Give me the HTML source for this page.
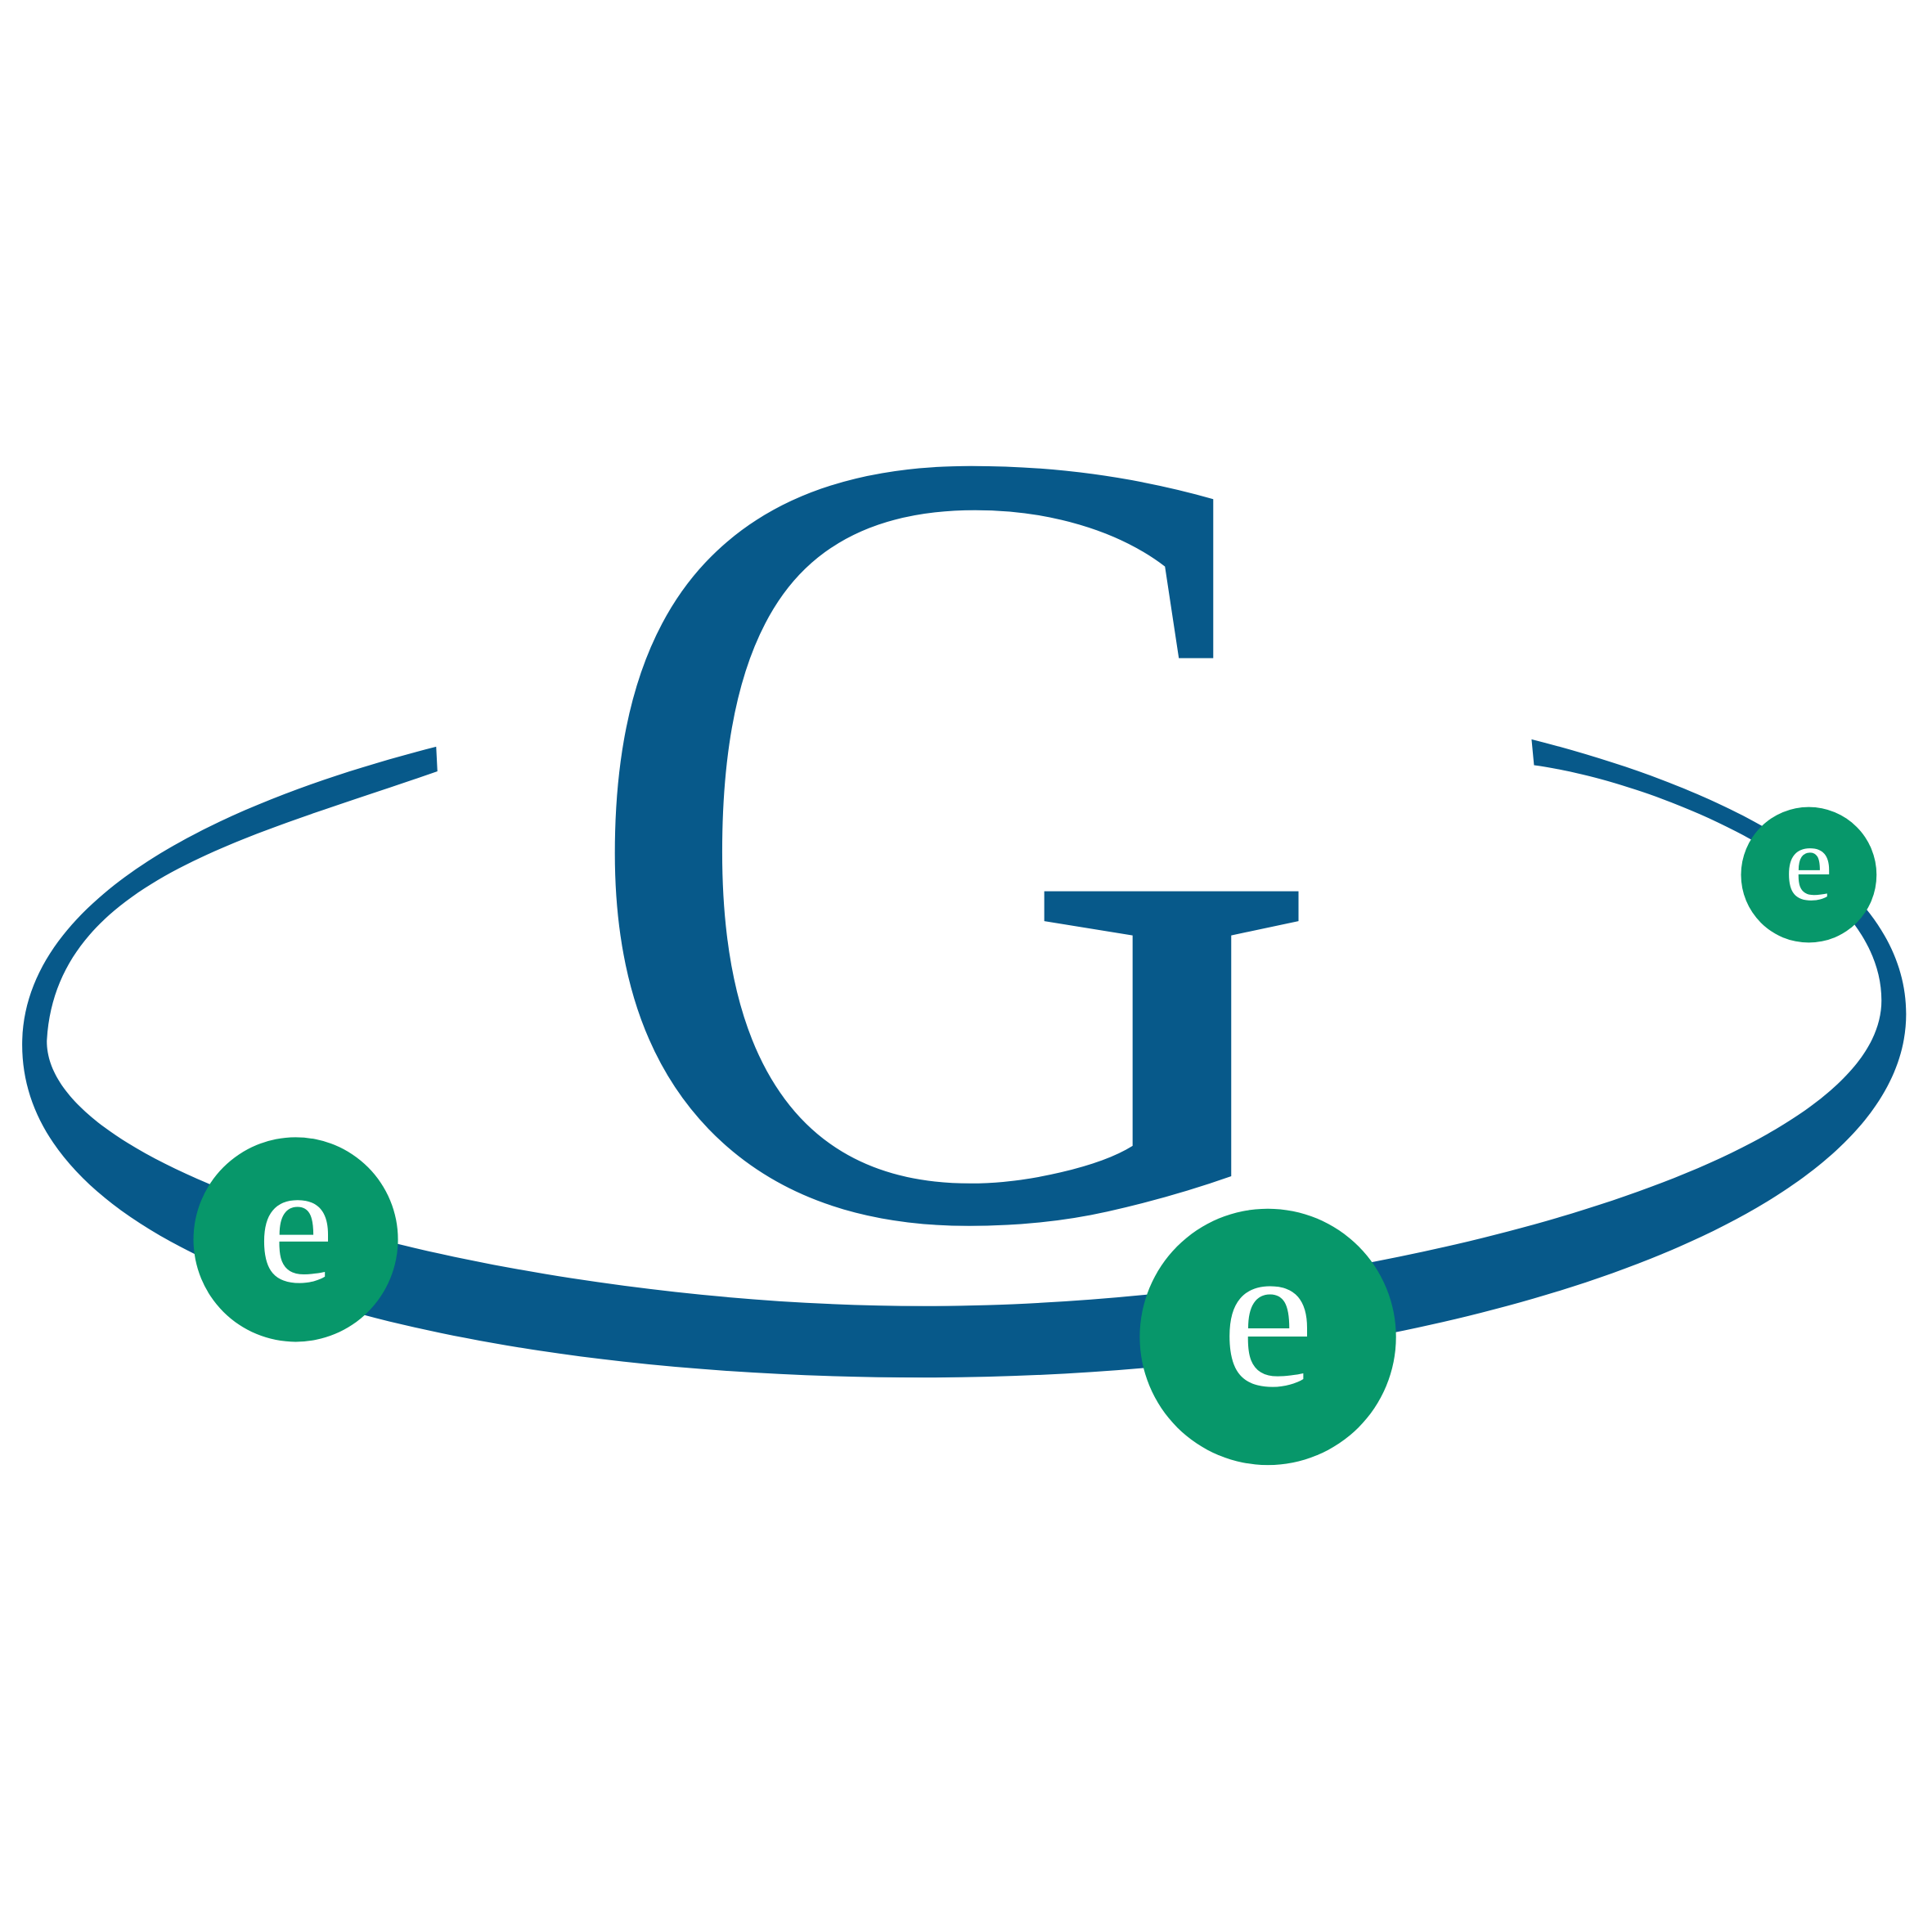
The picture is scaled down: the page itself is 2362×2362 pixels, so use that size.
<!DOCTYPE html>
<html>
<head>
<meta charset="utf-8">
<style>
html,body{margin:0;padding:0;background:#fff;}
svg{display:block;}
</style>
</head>
<body>
<svg width="2362" height="2362" viewBox="0 0 1568 1568" xmlns="http://www.w3.org/2000/svg">
  <rect width="1568" height="1568" fill="#ffffff"/>
  <path fill="#07598a"
    d="M354,606 C150,658 18,740 18,848 C18,1030 370,1118 750,1118 C1150,1118 1547,1000 1547,823 C1547,720 1420,645 1243,600 L1245,621 C1340,634 1527,706 1527,812 C1527,950 1090,1060 750,1060 C420,1060 38,960 38,845 C45,715 200,680 355,626 Z"/>
  <text x="0" y="0"
    transform="translate(464,986) scale(0.93,1)"
    font-family="'Liberation Serif', serif" font-size="918" fill="#07598a">G</text>
  <g>
    <circle cx="240" cy="1006" r="83" fill="#07976a"/>
    <text x="240" y="1040" text-anchor="middle" font-family="'Liberation Serif', serif" font-size="140" fill="#ffffff">e</text>
  </g>
  <g>
    <circle cx="1029" cy="1085" r="104" fill="#07976a"/>
    <text x="1029" y="1124" text-anchor="middle" font-family="'Liberation Serif', serif" font-size="170" fill="#ffffff">e</text>
  </g>
  <g>
    <circle cx="1468" cy="710" r="55" fill="#07976a"/>
    <text x="1468" y="730" text-anchor="middle" font-family="'Liberation Serif', serif" font-size="88" fill="#ffffff">e</text>
  </g>
</svg>
</body>
</html>
